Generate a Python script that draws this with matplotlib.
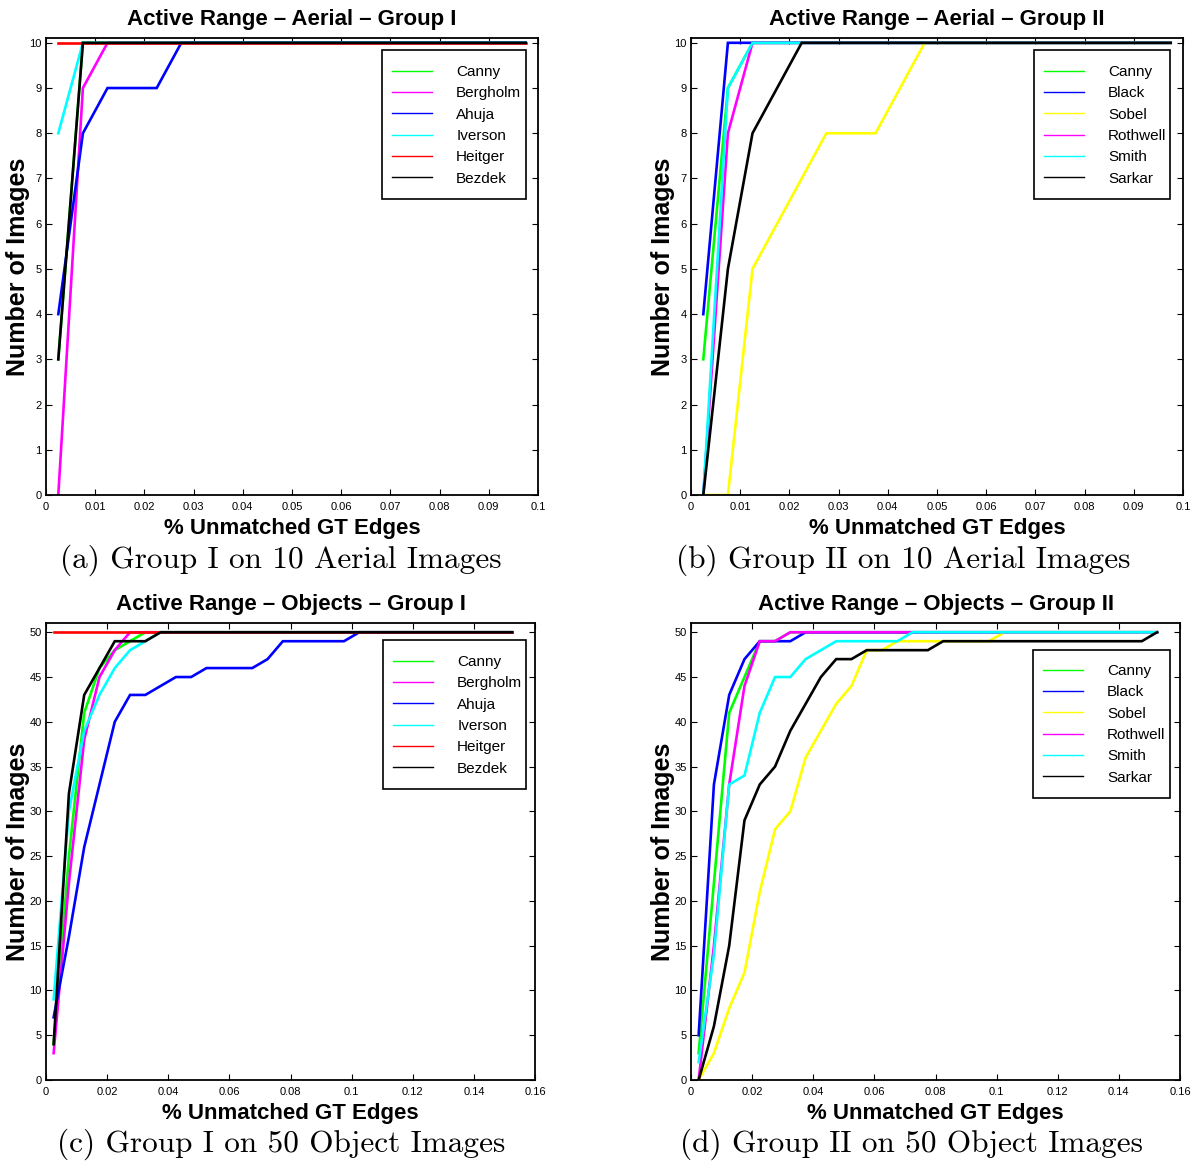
import numpy as np
import matplotlib
matplotlib.use("Agg")
import matplotlib.pyplot as plt
from matplotlib.patches import Rectangle

plt.rcParams['font.family'] = ['Liberation Sans', 'DejaVu Sans']

# bin centres of the unmatched-edge histogram
x_aerial = np.round(np.arange(0.0025, 0.1, 0.005), 4)
x_objects = np.round(np.arange(0.0025, 0.155, 0.005), 4)

# Group I on aerial images
aer1_canny = [3] + [10] * 19
aer1_bergholm = [0, 9] + [10] * 18
aer1_ahuja = [4, 8, 9, 9, 9] + [10] * 15
aer1_iverson = [8] + [10] * 19
aer1_heitger = [10] * 20
aer1_bezdek = [3] + [10] * 19

# Group II on aerial images
aer2_canny = [3, 9] + [10] * 18
aer2_black = [4] + [10] * 19
aer2_sobel = [0, 0, 5, 6, 7, 8, 8, 8, 9] + [10] * 11
aer2_rothwell = [0, 8] + [10] * 18
aer2_smith = [0, 9] + [10] * 18
aer2_sarkar = [0, 5, 8, 9] + [10] * 16

# Group I on object images
obj1_canny = [4, 25, 41, 46, 48, 49] + [50] * 25
obj1_bergholm = [3, 22, 38, 45, 48] + [50] * 26
obj1_ahuja = [7, 16, 26, 33, 40, 43, 43, 44, 45, 45, 46, 46, 46, 46, 47,
              49, 49, 49, 49, 49] + [50] * 11
obj1_iverson = [9, 30, 39, 43, 46, 48, 49] + [50] * 24
obj1_heitger = [50] * 31
obj1_bezdek = [4, 32, 43, 46, 49, 49, 49] + [50] * 24

# Group II on object images
obj2_canny = [3, 22, 41, 45, 49, 49] + [50] * 25
obj2_black = [5, 33, 43, 47, 49, 49, 49] + [50] * 24
obj2_sobel = [0, 3, 8, 12, 21, 28, 30, 36, 39, 42, 44, 48, 48] + [49] * 7 + [50] * 11
obj2_rothwell = [0, 15, 33, 44, 49, 49] + [50] * 25
obj2_smith = [2, 14, 33, 34, 41, 45, 45, 47, 48] + [49] * 5 + [50] * 17
obj2_sarkar = [0, 6, 15, 29, 33, 35, 39, 42, 45, 47, 47] + [48] * 5 + [49] * 14 + [50]

group1_names = ['Canny', 'Bergholm', 'Ahuja', 'Iverson', 'Heitger', 'Bezdek']
group1_colors = ['#00ff00', '#ff00ff', '#0000ff', '#00ffff', '#ff0000', 'black']
group2_names = ['Canny', 'Black', 'Sobel', 'Rothwell', 'Smith', 'Sarkar']
group2_colors = ['#00ff00', '#0000ff', '#ffff00', '#ff00ff', '#00ffff', 'black']

aer_xticks = [0, 0.01, 0.02, 0.03, 0.04, 0.05, 0.06, 0.07, 0.08, 0.09, 0.1]
aer_xlabels = ['0', '0.01', '0.02', '0.03', '0.04', '0.05', '0.06', '0.07', '0.08', '0.09', '0.1']
obj_xticks = [0, 0.02, 0.04, 0.06, 0.08, 0.1, 0.12, 0.14, 0.16]
obj_xlabels = ['0', '0.02', '0.04', '0.06', '0.08', '0.1', '0.12', '0.14', '0.16']

W, H = 1200, 1163
fig = plt.figure(figsize=(W / 100, H / 100), dpi=100)


def add_axes_px(left, right, top, bottom):
    return fig.add_axes([left / W, 1 - bottom / H, (right - left) / W, (bottom - top) / H])


def draw_panel(ax, x, series, names, colors, title, xticks, xlabels, ymax, ystep,
               box, entry_anchor, caption, caption_xy):
    for ys, name, c in zip(series, names, colors):
        ax.plot(x, ys, color=c, lw=1.9, label=name, solid_joinstyle='miter')
    ax.set_xlim(xticks[0], xticks[-1])
    ax.set_ylim(0, ymax)
    ax.set_xticks(xticks)
    ax.set_xticklabels(xlabels)
    ax.set_yticks(np.arange(0, ymax, ystep))
    ax.tick_params(direction='in', top=True, right=True, length=4, width=0.8,
                   labelsize=8)
    ax.tick_params(axis='x', pad=5)
    ax.tick_params(axis='y', pad=3)
    for sp in ax.spines.values():
        sp.set_linewidth(1.3)
    hpx = ax.get_position().height * H
    wpx = ax.get_position().width * W
    ax.text(0.5, 1 + 13 / hpx, title, transform=ax.transAxes, ha='center',
            va='baseline', fontsize=16, fontweight='bold')
    ax.set_xlabel('% Unmatched GT Edges', fontsize=16, fontweight='bold', va='center')
    ax.xaxis.set_label_coords(0.5, -33 / hpx)
    ax.set_ylabel('Number of Images', fontsize=18, fontweight='bold', va='center')
    ax.yaxis.set_label_coords(-28 / wpx, 0.5)

    # matlab-style legend: frameless entries inside a box that covers the lines
    x0, y0, x1, y1 = box
    ax.add_patch(Rectangle((x0 / W, 1 - y1 / H), (x1 - x0) / W, (y1 - y0) / H,
                           transform=fig.transFigure, facecolor='white',
                           edgecolor='black', lw=1.2, zorder=4, clip_on=False))
    leg = ax.legend(loc='upper left', bbox_to_anchor=(entry_anchor[0] / W, 1 - entry_anchor[1] / H),
                    bbox_transform=fig.transFigure, borderaxespad=0, borderpad=0,
                    fontsize=11, frameon=False, handlelength=2.6, handletextpad=1.6,
                    labelspacing=0.48)
    leg.set_zorder(5)
    for line in leg.get_lines():
        line.set_linewidth(1.0)

    fig.text(caption_xy[0] / W, 1 - caption_xy[1] / H, caption, ha='center',
             va='center', fontsize=22.5, fontfamily='cmr10')


ax_a = add_axes_px(46, 538, 38.3, 495)
draw_panel(ax_a, x_aerial,
           [aer1_canny, aer1_bergholm, aer1_ahuja, aer1_iverson, aer1_heitger, aer1_bezdek],
           group1_names, group1_colors, 'Active Range – Aerial – Group I',
           aer_xticks, aer_xlabels, 10.1, 1, (382, 50, 526, 199), (392, 65),
           '(a) Group I on 10 Aerial Images', (281, 560))

ax_b = add_axes_px(691, 1183, 38.3, 495)
draw_panel(ax_b, x_aerial,
           [aer2_canny, aer2_black, aer2_sobel, aer2_rothwell, aer2_smith, aer2_sarkar],
           group2_names, group2_colors, 'Active Range – Aerial – Group II',
           aer_xticks, aer_xlabels, 10.1, 1, (1034, 50, 1170, 199), (1044, 65),
           '(b) Group II on 10 Aerial Images', (903, 560))

ax_c = add_axes_px(46, 535, 623.3, 1080)
draw_panel(ax_c, x_objects,
           [obj1_canny, obj1_bergholm, obj1_ahuja, obj1_iverson, obj1_heitger, obj1_bezdek],
           group1_names, group1_colors, 'Active Range – Objects – Group I',
           obj_xticks, obj_xlabels, 51, 5, (383, 640, 526, 789), (393, 655),
           '(c) Group I on 50 Object Images', (281, 1144))

ax_d = add_axes_px(691, 1180, 623.3, 1080)
draw_panel(ax_d, x_objects,
           [obj2_canny, obj2_black, obj2_sobel, obj2_rothwell, obj2_smith, obj2_sarkar],
           group2_names, group2_colors, 'Active Range – Objects – Group II',
           obj_xticks, obj_xlabels, 51, 5, (1033, 650, 1170, 798), (1043, 664),
           '(d) Group II on 50 Object Images', (912, 1144))

fig.savefig('out.png', dpi=100, facecolor='white')
